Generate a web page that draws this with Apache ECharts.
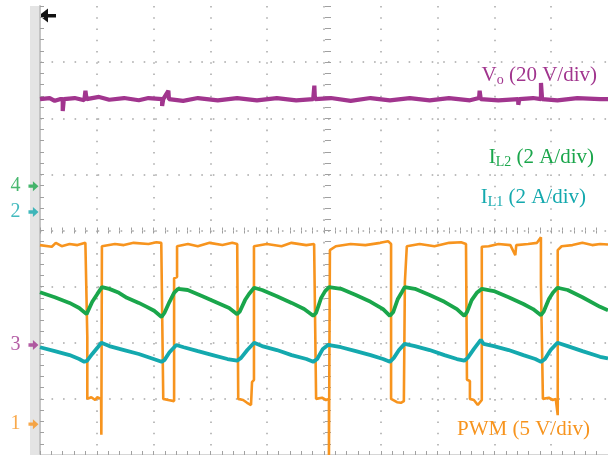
<!DOCTYPE html>
<html><head><meta charset="utf-8">
<script src="https://cdn.jsdelivr.net/npm/echarts/dist/echarts.min.js"></script>
<style>html,body{margin:0;padding:0;background:#fff}#c{width:608px;height:455px}</style>
</head><body><div id="c"></div>
<script>
// time in scope divisions (0..10), amplitude in scope divisions (0..8, bottom = 0)
const pwm = [
[0.000,3.74],[0.208,3.71],[0.278,3.78],[0.382,3.72],[0.521,3.76],[0.660,3.74],[0.799,3.78],[0.816,3.78],
[0.833,2.10],[0.833,1.00],[0.903,1.03],[0.972,0.98],[1.007,1.03],[1.076,1.00],[1.080,0.36],[1.090,3.72],
[1.319,3.76],[1.476,3.74],[1.649,3.78],[1.910,3.76],[2.049,3.79],[2.135,3.78],
[2.170,1.00],[2.257,0.98],[2.361,0.96],[2.361,3.15],[2.413,3.17],[2.413,3.72],
[2.604,3.76],[2.778,3.72],[2.986,3.78],[3.212,3.74],[3.385,3.78],[3.472,3.76],
[3.490,1.00],[3.576,0.98],[3.646,0.93],[3.715,0.89],[3.733,1.30],[3.767,1.34],[3.767,3.72],
[3.993,3.76],[4.253,3.72],[4.427,3.78],[4.688,3.74],[4.826,3.76],
[4.861,1.00],[4.965,1.02],[5.035,0.98],[5.087,1.00],[5.087,0.00],[5.104,3.65],
[5.208,3.72],[5.469,3.76],[5.729,3.74],[5.990,3.78],[6.128,3.81],[6.181,3.76],
[6.181,1.00],[6.285,0.94],[6.354,0.93],[6.406,0.96],[6.424,3.08],[6.458,3.08],[6.458,3.72],
[6.684,3.76],[6.944,3.72],[7.205,3.78],[7.413,3.79],[7.500,3.76],
[7.517,1.34],[7.569,1.32],[7.569,1.00],[7.639,0.98],[7.708,0.89],[7.778,0.98],[7.778,3.71],
[7.899,3.72],[8.073,3.76],[8.281,3.74],[8.368,3.56],[8.385,3.74],[8.594,3.76],[8.750,3.78],[8.819,3.88],
[8.819,3.07],[8.854,3.05],[8.854,1.00],[8.958,1.02],[9.028,0.98],[9.080,1.00],[9.115,0.71],[9.115,3.65],
[9.184,3.72],[9.375,3.74],[9.549,3.78],[9.722,3.74],[9.861,3.76],[10,3.75]
];
const vo = [
[0,6.34],[0.17,6.36],[0.26,6.31],[0.35,6.34],[0.40,6.34],[0.40,6.13],[0.42,6.34],[0.61,6.36],[0.78,6.32],
[0.80,6.49],[0.82,6.34],[1.04,6.38],[1.22,6.33],[1.48,6.36],[1.74,6.32],[1.91,6.36],[2.15,6.34],[2.15,6.22],
[2.17,6.34],[2.26,6.49],[2.27,6.34],[2.52,6.31],[2.78,6.36],[3.13,6.32],[3.47,6.36],[3.82,6.32],[4.17,6.36],
[4.51,6.32],[4.81,6.34],[4.83,6.58],[4.84,6.34],[5.12,6.36],[5.47,6.31],[5.82,6.36],[6.16,6.32],[6.51,6.36],
[6.86,6.32],[7.20,6.36],[7.57,6.32],[7.73,6.36],[7.74,6.49],[7.76,6.34],[8.07,6.32],[8.42,6.34],[8.42,6.24],
[8.44,6.34],[8.68,6.36],[8.82,6.34],[8.82,6.63],[8.84,6.34],[9.11,6.32],[9.46,6.36],[9.86,6.34],[10,6.34]
];
const iL2 = [
[0,2.90],[0.26,2.81],[0.52,2.71],[0.69,2.62],[0.82,2.51],[0.85,2.53],[0.92,2.73],[1.01,2.87],[1.09,2.99],
[1.22,2.96],[1.39,2.89],[1.53,2.80],[1.74,2.71],[1.88,2.64],[2.01,2.57],[2.14,2.46],[2.19,2.53],[2.28,2.73],
[2.36,2.89],[2.43,2.96],[2.60,2.94],[2.86,2.83],[3.13,2.71],[3.33,2.62],[3.47,2.51],[3.52,2.56],[3.61,2.76],
[3.68,2.87],[3.77,2.98],[3.91,2.94],[4.17,2.83],[4.43,2.71],[4.65,2.60],[4.81,2.48],[4.86,2.53],[4.95,2.80],
[5.02,2.92],[5.09,2.99],[5.30,2.96],[5.56,2.85],[5.82,2.73],[6.04,2.60],[6.16,2.48],[6.22,2.55],[6.30,2.78],
[6.37,2.90],[6.42,2.99],[6.60,2.96],[6.86,2.85],[7.12,2.73],[7.34,2.60],[7.47,2.48],[7.52,2.55],[7.60,2.76],
[7.69,2.89],[7.78,2.96],[7.99,2.92],[8.25,2.81],[8.51,2.69],[8.68,2.60],[8.82,2.49],[8.87,2.56],[8.96,2.78],
[9.03,2.89],[9.11,2.98],[9.29,2.94],[9.55,2.81],[9.86,2.64],[10,2.58]
];
const iL1 = [
[0,1.92],[0.26,1.85],[0.52,1.78],[0.69,1.71],[0.78,1.66],[0.83,1.68],[0.92,1.80],[1.01,1.91],[1.08,2.00],
[1.22,1.94],[1.48,1.87],[1.74,1.80],[2.00,1.71],[2.14,1.66],[2.19,1.69],[2.28,1.83],[2.40,1.96],[2.53,1.92],
[2.78,1.85],[3.04,1.78],[3.30,1.71],[3.47,1.68],[3.54,1.73],[3.65,1.87],[3.77,2.00],[3.91,1.94],[4.17,1.87],
[4.43,1.78],[4.69,1.71],[4.81,1.66],[4.88,1.71],[4.98,1.89],[5.07,1.96],[5.30,1.92],[5.56,1.85],[5.82,1.78],
[6.04,1.71],[6.16,1.66],[6.23,1.73],[6.32,1.87],[6.42,1.98],[6.60,1.94],[6.86,1.87],[7.12,1.78],[7.34,1.71],
[7.47,1.68],[7.53,1.73],[7.64,1.89],[7.73,2.01],[7.76,2.05],[7.81,1.98],[7.99,1.94],[8.25,1.87],[8.51,1.78],
[8.72,1.71],[8.82,1.66],[8.89,1.71],[8.99,1.87],[9.11,2.00],[9.29,1.94],[9.55,1.85],[9.86,1.75],[10,1.72]
];
// channel ground markers (level in divisions)
const markerNames = ['4','2','3','1'];
const markerLevels = [4.79, 4.33, 1.96, 0.55];
const markerColors = ['#1aa64b','#14a9ae','#a1358e','#f7941e'];
const chLabels = [
  {text:'{m|V}{s|o}{m| (20 V/div)}', color:'#a1358e', x:597, y:76},
  {text:'{m|I}{s|L2}{m| (2 A/div)}', color:'#1aa64b', x:594, y:158},
  {text:'{m|I}{s|L1}{m| (2 A/div)}', color:'#14a9ae', x:586, y:198},
  {text:'{m|PWM (5 V/div)}', color:'#f7941e', x:590, y:430}
];

const FONT = '"Liberation Serif","DejaVu Serif",serif';
const tickCol = '#a0a0a0';
function tickAxis(extra){
  return Object.assign({type:'value', min:0, max:10, interval:1, axisLabel:{show:false},
    axisLine:{show:false}, splitLine:{show:false},
    axisTick:{show:true, inside:true, length:4, lineStyle:{color:tickCol}},
    minorTick:{show:true, splitNumber:5, length:4, lineStyle:{color:tickCol}}}, extra);
}
function tickYAxis(extra){
  return Object.assign({type:'value', min:0, max:8, interval:1, axisLabel:{show:false},
    axisLine:{show:false}, splitLine:{show:false},
    axisTick:{show:true, inside:true, length:4, lineStyle:{color:tickCol}},
    minorTick:{show:true, splitNumber:5, length:4, lineStyle:{color:tickCol}}}, extra);
}
const dotStyle = (gap)=>({color:'#a8a8a8', width:1.5, type:[1.6, gap]});

const chart = echarts.init(document.getElementById('c'), null, {renderer:'canvas'});
const rich = (color)=>({
  m:{fontFamily:FONT, fontSize:21, color:color, lineHeight:22, verticalAlign:'top'},
  s:{fontFamily:FONT, fontSize:14, color:color, lineHeight:15, padding:[13,0,0,0], verticalAlign:'bottom'}
});
chart.setOption({
  animation:false,
  backgroundColor:'#fff',
  grid:{left:40, top:6, width:576, height:449, containLabel:false},
  xAxis:[
    tickAxis({position:'bottom', splitLine:{show:true, showMinLine:false, showMaxLine:false, lineStyle:dotStyle(9.63)}}),
    tickAxis({position:'top', axisLine:{show:true, lineStyle:{color:'#d6d6d6', width:2}}}),
    tickAxis({position:'bottom', offset:-224.5, axisTick:{show:true, inside:true, length:3, lineStyle:{color:tickCol}}, minorTick:{show:true, splitNumber:5, length:3, lineStyle:{color:tickCol}}}),
    tickAxis({position:'bottom', offset:-224.5, axisTick:{show:true, inside:false, length:3, lineStyle:{color:tickCol}}, minorTick:{show:true, splitNumber:5, length:3, lineStyle:{color:tickCol}}})
  ],
  yAxis:[
    tickYAxis({position:'left', axisLine:{show:true, lineStyle:{color:'#c4c4c4', width:2}}, splitLine:{show:true, showMinLine:false, showMaxLine:false, lineStyle:dotStyle(9.92)}}),
    tickYAxis({position:'left', offset:-288, axisTick:{show:true, inside:true, length:3, lineStyle:{color:tickCol}}, minorTick:{show:true, splitNumber:5, length:3, lineStyle:{color:tickCol}}}),
    tickYAxis({position:'left', offset:-288, axisTick:{show:true, inside:false, length:3, lineStyle:{color:tickCol}}, minorTick:{show:true, splitNumber:5, length:3, lineStyle:{color:tickCol}}})
  ],
  graphic:[
    {type:'rect', shape:{x:30, y:6, width:9, height:449}, style:{fill:'#e4e4e4'}, z:-1},
    {type:'polygon', shape:{points:[[39,15.5],[48,8.5],[48,22.5]]}, style:{fill:'#111'}},
    {type:'rect', shape:{x:46, y:14, width:10, height:3.5}, style:{fill:'#111'}}
  ].concat(chLabels.map(l=>({type:'text', x:l.x, y:l.y, z:10,
    style:{text:l.text, rich:rich(l.color), textAlign:'right', textVerticalAlign:'middle', fill:l.color}}))),
  series:[
    {type:'line', name:'PWM', data:pwm, showSymbol:false, symbol:'none', lineStyle:{color:'#f7941e', width:2.6}, z:2},
    {type:'line', name:'Vo', data:vo, showSymbol:false, symbol:'none', lineStyle:{color:'#a1358e', width:4.2}, z:3},
    {type:'line', name:'IL2', data:iL2, showSymbol:false, symbol:'none', lineStyle:{color:'#1aa64b', width:3.8}, z:3},
    {type:'line', name:'IL1', data:iL1, showSymbol:false, symbol:'none', lineStyle:{color:'#14a9ae', width:3.8}, z:3},
    {type:'scatter', name:'markers', clip:false, z:5,
      data:markerLevels.map((v,i)=>({value:[-0.115, v], itemStyle:{color:markerColors[i]},
        label:{show:true, formatter:markerNames[i], color:markerColors[i]}})),
      symbol:'path://M0,3 L4,3 L4,0 L9,4.5 L4,9 L4,6 L0,6 Z', symbolSize:[10,10],
      label:{show:true, position:'left', distance:8, fontFamily:FONT, fontSize:20}}
  ]
});
</script></body></html>
